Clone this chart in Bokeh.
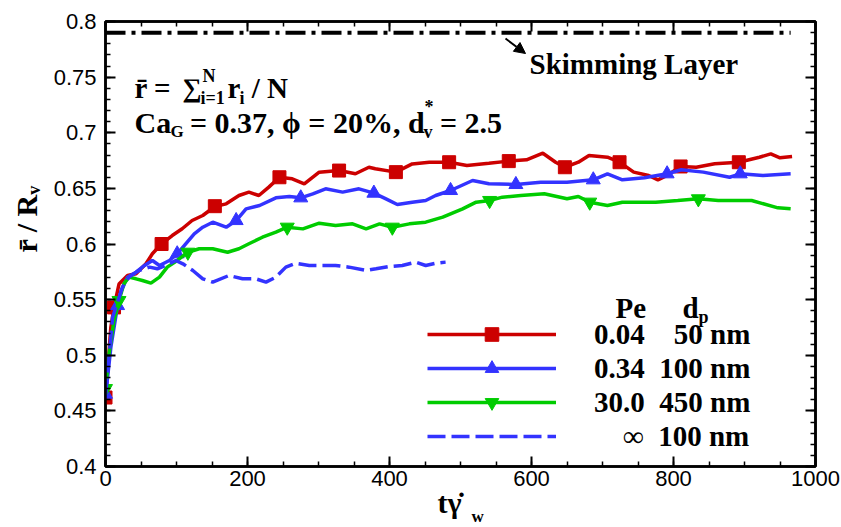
import math
from bokeh.plotting import figure
from bokeh.models import (FixedTicker, LinearAxis, Range1d, Label, Arrow, NormalHead,
                          Legend, LegendItem, CustomJSTickFormatter, Title)
from bokeh.core.properties import value
from bokeh.embed import file_html
from bokeh.resources import INLINE

# ---------------- data ----------------
red_x = [0, 7.5, 12, 19, 31, 43, 57, 66, 79, 94, 108, 122, 137, 154, 170, 188, 202, 216, 230,
         245, 263, 280, 301, 329, 352, 371, 380, 409, 432, 456, 484, 509, 540, 568, 593, 616,
         634, 647, 666, 681, 707, 724, 744, 765, 778, 791, 810, 832, 858, 892, 921, 937, 950, 967]
red_y = [0.461, 0.525, 0.543, 0.564, 0.5717, 0.5732, 0.5822, 0.5912, 0.6002, 0.6076, 0.6137,
         0.6211, 0.6256, 0.6337, 0.6361, 0.6436, 0.6466, 0.6436, 0.6511, 0.660, 0.6586, 0.6541,
         0.6646, 0.666, 0.6631, 0.669, 0.6676, 0.6646, 0.672, 0.6735, 0.6735, 0.6706, 0.6725,
         0.6745, 0.6757, 0.6816, 0.6735, 0.669, 0.6735, 0.6796, 0.678, 0.6735, 0.6646, 0.6616,
         0.6577, 0.6616, 0.6697, 0.669, 0.6721, 0.6735, 0.678, 0.681, 0.6775, 0.6787]
red_mx = [0, 12, 79, 154, 245, 329, 409, 484, 568, 647, 724, 810, 892]
red_my = [0.462, 0.543, 0.600, 0.634, 0.660, 0.666, 0.6646, 0.6735, 0.6745, 0.669, 0.6735,
          0.6697, 0.6735]

blue_x = [0, 7.5, 17, 22, 31, 43, 55, 66, 76, 90, 101, 113, 125, 137, 151, 170, 184, 198, 217,
          240, 259, 275, 292, 310, 334, 357, 378, 395, 411, 432, 451, 465, 486, 517, 540, 578,
          613, 650, 687, 707, 728, 759, 791, 811, 842, 879, 894, 926, 965]
blue_y = [0.463, 0.507, 0.5447, 0.558, 0.5702, 0.5747, 0.5807, 0.5852, 0.5807, 0.5852, 0.5912,
          0.6002, 0.6092, 0.6151, 0.6196, 0.6151, 0.6211, 0.6316, 0.6346, 0.6415, 0.6427,
          0.6415, 0.6451, 0.6496, 0.6466, 0.6496, 0.6457, 0.6406, 0.6355, 0.6376, 0.6391,
          0.6436, 0.6481, 0.6571, 0.6541, 0.6535, 0.6556, 0.6556, 0.6577, 0.6631, 0.6577,
          0.6595, 0.6631, 0.6667, 0.6646, 0.660, 0.6631, 0.6616, 0.6631]
blue_mx = [0, 17, 101, 184, 275, 378, 486, 578, 687, 791, 894]
blue_my = [0.465, 0.5447, 0.5912, 0.6211, 0.6415, 0.6457, 0.6481, 0.6535, 0.6577, 0.6631, 0.6631]

green_x = [0, 5, 12, 19, 26, 33, 43, 52, 64, 76, 87, 101, 116, 132, 151, 172, 188, 202, 221,
           240, 256, 278, 301, 324, 348, 367, 386, 404, 428, 451, 475, 503, 522, 541, 559, 585,
           618, 650, 666, 682, 707, 728, 775, 806, 835, 863, 910, 947, 965]
green_y = [0.470, 0.5013, 0.5312, 0.5492, 0.5642, 0.5702, 0.5687, 0.5672, 0.5648, 0.5702,
           0.5792, 0.5852, 0.5926, 0.5957, 0.5957, 0.5926, 0.5957, 0.6002, 0.6061, 0.6106,
           0.6151, 0.6136, 0.6187, 0.6166, 0.6181, 0.6136, 0.6181, 0.6151, 0.6181, 0.6196,
           0.6241, 0.6316, 0.6376, 0.6391, 0.6421, 0.6436, 0.6451, 0.6406, 0.6427, 0.6376,
           0.6346, 0.6376, 0.6376, 0.6391, 0.6406, 0.6391, 0.6391, 0.6325, 0.6316]
green_mx = [0, 19, 116, 256, 404, 541, 682, 835]
green_my = [0.470, 0.5492, 0.5926, 0.6151, 0.6151, 0.6391, 0.6376, 0.6406]

inf_x = [0, 10, 24, 33, 47, 62, 73, 85, 99, 109, 123, 137, 151, 174, 193, 212, 226, 240, 254,
         268, 287, 306, 324, 343, 367, 381, 400, 418, 437, 451, 465, 479]
inf_y = [0.463, 0.5342, 0.5612, 0.5702, 0.5762, 0.5792, 0.5777, 0.5807, 0.5852, 0.5822,
         0.5762, 0.5687, 0.5657, 0.5717, 0.5687, 0.5687, 0.5657, 0.5702, 0.5792, 0.5827,
         0.5807, 0.5807, 0.5807, 0.5792, 0.5762, 0.5777, 0.5798, 0.5807, 0.5837, 0.5807,
         0.5827, 0.5837]

skim_x = [0, 965]
skim_y = [0.79, 0.79]

legend_labels = ["0.04\u2002\u200750 nm", "0.34\u2002100 nm", "30.0\u2002450 nm",
                 "\u2007\u2007\u221e\u2002100 nm"]

x_major = [0, 200, 400, 600, 800, 1000]
x_minor = list(range(0, 1001, 50))
y_major = [round(0.4 + 0.05 * i, 2) for i in range(9)]
y_minor = [round(0.4 + 0.01 * i, 2) for i in range(41)]

RED, BLUE, GREEN = "#CC0000", "#3333FF", "#00CC00"
SERIF = "Liberation Serif"
SANS = "Liberation Sans"
NB = "\u00a0"  # non-collapsing space

# ---------------- figure ----------------
FX0, FY0 = 103, 21  # frame top-left on the page
p = figure(frame_width=710, frame_height=445,
           x_range=Range1d(0, 1000), y_range=Range1d(0.4, 0.8),
           output_backend="svg", toolbar_location=None,
           min_border_left=FX0, min_border_right=28, min_border_top=FY0, min_border_bottom=61)
p.xgrid.visible = False
p.ygrid.visible = False
p.outline_line_color = "black"
p.outline_line_width = 2.5
p.background_fill_color = "white"
p.border_fill_color = "white"

xt = FixedTicker(ticks=x_major, minor_ticks=x_minor)
yt = FixedTicker(ticks=y_major, minor_ticks=y_minor)


def style_axis(ax):
    ax.major_tick_in = 10
    ax.major_tick_out = 0
    ax.minor_tick_in = 5
    ax.minor_tick_out = 0
    ax.major_tick_line_width = 2
    ax.minor_tick_line_width = 1.5
    ax.axis_line_width = 2.5
    ax.major_tick_line_color = "black"
    ax.minor_tick_line_color = "black"
    ax.axis_line_color = "black"


p.xaxis.ticker = xt
p.yaxis.ticker = yt
for ax in (p.xaxis[0], p.yaxis[0]):
    style_axis(ax)
    ax.major_label_text_font = SANS
    ax.major_label_text_font_size = "22px"
    ax.major_label_text_color = "black"
p.xaxis.major_label_standoff = 4
p.yaxis.major_label_standoff = 9
p.yaxis.formatter = CustomJSTickFormatter(code="return String(Number(tick.toFixed(2)));")

top = LinearAxis(ticker=xt, formatter=CustomJSTickFormatter(code="return '';"),
                 major_label_text_font_size="0px", major_label_standoff=0)
right = LinearAxis(ticker=yt, formatter=CustomJSTickFormatter(code="return '';"),
                   major_label_text_font_size="0px", major_label_standoff=0)
style_axis(top)
style_axis(right)
p.add_layout(top, "above")
p.add_layout(right, "right")

# axis titles (outside the frame -> side-panel titles)
p.add_layout(Title(text="r\u0304 / R\u1d65", align="left", offset=466 - 252,
                   vertical_align="bottom", standoff=15, text_font=SERIF,
                   text_font_style="bold", text_font_size="30px", text_color="black"), "left")
p.add_layout(Title(text="t\u03b3\u0307", align="left", offset=435 - FX0,
                   vertical_align="top", standoff=-6, text_font=SERIF,
                   text_font_style="bold", text_font_size="30px", text_color="black"), "below")
p.add_layout(Title(text="w", align="left", offset=469 - FX0,
                   vertical_align="top", standoff=-21, text_font=SERIF,
                   text_font_style="bold", text_font_size="17px", text_color="black"), "below")

# ---------------- curves ----------------
p.line(skim_x, skim_y, line_color="black", line_width=4, line_dash="20 6 4 6")

LW = 3.5
r_line = p.line(red_x, red_y, line_color=RED, line_width=LW)
r_mark = p.scatter(red_mx, red_my, marker="square", size=13, fill_color=RED, line_color=RED)
b_line = p.line(blue_x, blue_y, line_color=BLUE, line_width=LW)
b_mark = p.scatter(blue_mx, blue_my, marker="triangle", size=14, fill_color=BLUE, line_color=BLUE)
g_line = p.line(green_x, green_y, line_color=GREEN, line_width=LW)
g_mark = p.scatter(green_mx, green_my, marker="inverted_triangle", size=14,
                   fill_color=GREEN, line_color=GREEN)
i_line = p.line(inf_x, inf_y, line_color=BLUE, line_width=LW, line_dash="18 6")

legend = Legend(items=[
    LegendItem(label=value(legend_labels[0]), renderers=[r_line, r_mark]),
    LegendItem(label=value(legend_labels[1]), renderers=[b_line, b_mark]),
    LegendItem(label=value(legend_labels[2]), renderers=[g_line, g_mark]),
    LegendItem(label=value(legend_labels[3]), renderers=[i_line]),
], location=(322, 13), glyph_width=129, glyph_height=34, label_height=34, label_standoff=38,
    spacing=0, padding=0, margin=0, border_line_color=None, background_fill_alpha=0,
    label_text_font=SERIF, label_text_font_style="bold", label_text_font_size="29px",
    label_text_color="black")
p.add_layout(legend)

# ---------------- text annotations inside the frame ----------------


def txt(s, px, base, size=29, style="bold"):
    p.add_layout(Label(x=0, y=0.8, x_offset=px - FX0, y_offset=-(base - FY0), text=s,
                       text_font=SERIF, text_font_size=f"{size}px", text_font_style=style,
                       text_color="black", text_align="left", text_baseline="alphabetic"))


# line 1:  r̄ = Σ_{i=1}^N r_i / N
txt("r\u0304 =", 132, 87)
txt("\u2211", 180, 87, size=27)
txt("N", 200, 75, size=18)
txt("i=1", 198, 97, size=18)
txt("r", 225, 87)
txt("i", 237, 97, size=18)
txt(NB + "/ N", 242, 87)

# line 2:  Ca_G = 0.37, ϕ = 20%, d*_v = 2.5
txt("Ca", 132, 122, size=30)
txt("G", 168, 131, size=17)
txt(NB + "= 0.37, \u03d5 = 20%, d", 180, 122, size=30)
txt("*", 422, 106, size=18)
txt("v", 421, 131, size=18)
txt(NB + "= 2.5", 430, 122, size=30)

txt("Skimming Layer", 527, 63)

# legend header
txt("Pe", 613, 307)
txt("d", 680, 307)
txt("p", 696, 316, size=18)


# arrow towards the text
def dx(px):
    return (px - FX0) / 0.71


def dy(py):
    return 0.4 + (466 - py) / 1112.5


p.add_layout(Arrow(end=NormalHead(size=11, fill_color="black", line_color="black"),
                   x_start=dx(503), y_start=dy(38), x_end=dx(523), y_end=dy(53),
                   line_width=2, line_color="black"))

open("out.html", "w").write(file_html(p, INLINE))
